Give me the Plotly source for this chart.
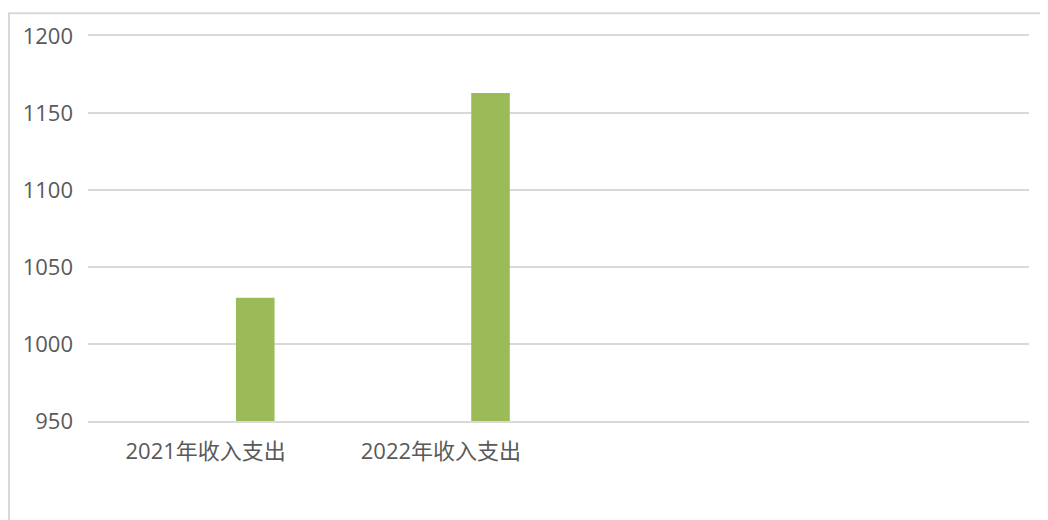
import plotly.graph_objects as go

categories = ["2021年收入支出", "2022年收入支出"]
values = [1030, 1163]
y_ticks = [950, 1000, 1050, 1100, 1150, 1200]
n_slots = 4

x_pos = list(range(len(categories)))

fig = go.Figure()
fig.add_trace(go.Bar(
    x=x_pos, y=values,
    width=0.164, offset=0.129,
    marker=dict(color="#9bbb59", line=dict(width=0)),
    hoverinfo="x+y",
))

font_family = "Open Sans, Noto Sans CJK SC, sans-serif"
fig.update_layout(
    width=1048, height=520,
    margin=dict(l=80, r=27, t=25, b=107),
    paper_bgcolor="white", plot_bgcolor="white",
    showlegend=False,
    font=dict(family=font_family, size=22, color="#595959"),
    xaxis=dict(
        range=[-0.5, n_slots - 0.5],
        tickmode="array", tickvals=x_pos, ticktext=categories,
        showgrid=False, zeroline=False,
        showline=True, mirror=True, linecolor="#d9d9d9", linewidth=1.5,
        ticks="", ticklabelstandoff=10,
        tickfont=dict(size=22, color="#595959"),
    ),
    yaxis=dict(
        range=[950, 1200],
        tickmode="array", tickvals=y_ticks,
        showgrid=True, gridcolor="#d9d9d9", gridwidth=1.5,
        zeroline=False, showline=False,
        ticks="", ticklabelstandoff=14,
        tickfont=dict(size=22, color="#595959"),
    ),
    shapes=[dict(
        type="rect", xref="paper", yref="paper",
        x0=-79/941, x1=1.2, y0=-0.5, y1=1 + 23/388,
        line=dict(color="#d9d9d9", width=2),
        fillcolor="rgba(0,0,0,0)", layer="below",
    )],
)

fig.write_html("out.html")
